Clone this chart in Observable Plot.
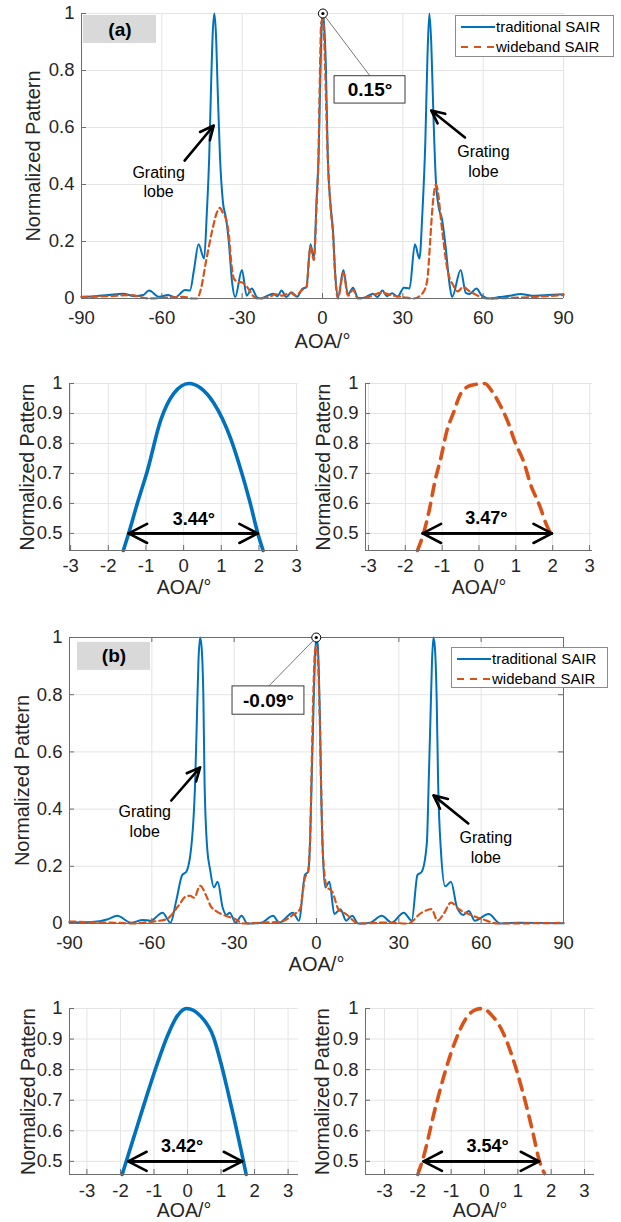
<!DOCTYPE html>
<html><head><meta charset="utf-8">
<script src="https://cdn.jsdelivr.net/npm/d3@7"></script>
<script src="https://cdn.jsdelivr.net/npm/@observablehq/plot@0.6"></script>
<style>
body{margin:0;background:#fff;font-family:"Liberation Sans",Arial,sans-serif;}
#root{position:relative;width:621px;height:1222px;overflow:hidden;background:#fff;}
.panel{position:absolute;}
.legend{position:absolute;background:#fff;border:1px solid #8c8c8c;font-size:15px;color:#000;box-sizing:border-box;}
.legend span{position:absolute;left:40px;white-space:nowrap;line-height:18px;}
</style></head><body><div id="root"></div>
<script>
// ---------- data ----------
const seriesNames = ["traditional SAIR", "wideband SAIR"];
const xTicksMain = [-90, -60, -30, 0, 30, 60, 90];
const yTicksMain = [0, 0.2, 0.4, 0.6, 0.8, 1];
const xTicksZoom = [-3, -2, -1, 0, 1, 2, 3];
const yTicksZoom = [0.5, 0.6, 0.7, 0.8, 0.9, 1];
const xLabel = "AOA/°";
const yLabel = "Normalized Pattern";

// (a) full pattern
const tradA = [[-90,0.006],[-85,0.008],[-80,0.012],[-74.5,0.017],[-70,0.008],[-67,0.012],[-64.8,0.028],[-61,0.006],[-57.8,0.012],[-55,0.004],[-51.3,0.03],[-49.5,0.028],[-48,0.1],[-46.3,0.19],[-44.2,0.14],[-43.2,0.3],[-42.3,0.5],[-41.6,0.75],[-41,0.93],[-40.4,1.0],[-39.8,0.93],[-39.1,0.72],[-38.3,0.5],[-37.2,0.34],[-36,0.28],[-35,0.2],[-33.8,0.06],[-32.6,0.005],[-30.1,0.1],[-28.3,0.01],[-26.4,0.035],[-24.5,0.004],[-23,0.0],[-20.5,0.01],[-18.3,0.017],[-16.8,0.008],[-15.3,0.028],[-13.5,0.005],[-11.6,0.022],[-9.5,0.006],[-7.6,0.033],[-6,0.04],[-4.5,0.19],[-3.2,0.14],[-2.2,0.35],[-1.46,0.5],[-0.96,0.71],[-0.26,0.967],[0.15,1.0],[0.8,0.93],[1.25,0.82],[1.97,0.5],[3.0,0.33],[3.9,0.24],[4.8,0.08],[5.8,0.005],[7.8,0.1],[9.5,0.015],[11.4,0.038],[13.2,0.003],[15,0.002],[17.5,0.012],[18.8,0.017],[20.5,0.005],[22.4,0.028],[24,0.008],[26,0.018],[28,0.006],[30.4,0.038],[32.5,0.035],[34.5,0.19],[36.2,0.14],[37.3,0.3],[38.4,0.55],[39.2,0.85],[39.9,1.0],[40.6,0.9],[41.4,0.65],[42.3,0.42],[43.4,0.32],[44.6,0.28],[46,0.18],[47.3,0.06],[48.4,0.005],[51.6,0.1],[53.5,0.02],[55,0.016],[57.5,0.035],[59.5,0.01],[62.5,0.0],[66,0.005],[70,0.01],[74,0.016],[78,0.01],[84,0.012],[90,0.015]];
const wideA = [[-90,0.005],[-80,0.008],[-71.5,0.012],[-65,0.0],[-58,0.003],[-52,0.006],[-48.5,0.0],[-46.8,0.0],[-45.5,0.03],[-43.5,0.13],[-41.2,0.238],[-39.5,0.3],[-38.3,0.318],[-37.2,0.3],[-36.2,0.283],[-35,0.225],[-34,0.12],[-33.1,0.07],[-31.5,0.058],[-30.2,0.057],[-28.1,0.04],[-26,0.01],[-24.4,0.0],[-20,0.005],[-17.5,0.015],[-15,0.01],[-12,0.02],[-10,0.01],[-7.6,0.03],[-6,0.04],[-4.5,0.18],[-3.2,0.135],[-2.2,0.33],[-1.53,0.49],[-1.03,0.754],[-0.49,0.967],[0.15,0.98],[0.8,0.867],[1.39,0.667],[2.02,0.485],[3,0.32],[3.9,0.23],[4.8,0.07],[5.8,0.0],[7.8,0.09],[9.5,0.01],[11.4,0.03],[13.2,0.0],[17,0.005],[22,0.02],[26.5,0.01],[30,0.005],[34.1,0.0],[37.5,0.02],[39.1,0.063],[40.2,0.2],[40.9,0.3],[41.8,0.38],[42.4,0.4],[43.3,0.36],[44.3,0.27],[45.2,0.2],[46.1,0.133],[47.5,0.07],[48.6,0.05],[50.5,0.025],[52.5,0.04],[55,0.025],[58,0.01],[61.5,0.0],[70,0.002],[80,0.006],[90,0.012]];

// (b) full pattern
const tradB = [[-90,0.003],[-82,0.005],[-76,0.015],[-72.6,0.027],[-67.6,0.003],[-63.3,0.012],[-60.4,0.01],[-56.1,0.038],[-53.2,0.003],[-51.1,0.08],[-48.9,0.17],[-47.5,0.18],[-45.5,0.28],[-44.2,0.5],[-43.6,0.71],[-43,0.92],[-42.4,1.0],[-41.9,0.97],[-41.2,0.78],[-40.8,0.5],[-39.8,0.26],[-38.8,0.19],[-37.4,0.126],[-36,0.146],[-34.2,0.056],[-32.8,0.03],[-31.6,0.038],[-29.5,0.003],[-27.3,0.027],[-25.2,0.0],[-20.1,0.003],[-15.8,0.027],[-13.6,0.003],[-8.6,0.038],[-6.4,0.01],[-4.2,0.17],[-3.1,0.18],[-2.3,0.3],[-1.77,0.5],[-1.2,0.71],[-0.6,0.92],[-0.09,1.0],[0.39,0.98],[0.78,0.905],[1.3,0.7],[1.63,0.5],[2.3,0.25],[3.2,0.126],[4.7,0.146],[6.5,0.033],[8.7,0.05],[10.8,0.01],[13,0.027],[15.2,0.0],[19.5,0.003],[23.8,0.027],[27.4,0.003],[31.8,0.038],[34.7,0.01],[36.8,0.17],[38.3,0.18],[40.2,0.28],[40.9,0.5],[41.5,0.71],[42.1,0.92],[42.6,1.0],[43.1,0.97],[43.8,0.78],[44.3,0.5],[45.3,0.26],[46.9,0.13],[49,0.146],[51.2,0.056],[53.5,0.03],[55.5,0.044],[57.7,0.01],[62.7,0.033],[67,0.0],[73.5,0.003],[90,0.001]];
const wideB = [[-90,0.007],[-80,0.004],[-72,0.002],[-67,0.0],[-60.5,0.006],[-54.7,0.015],[-50.3,0.062],[-47.5,0.095],[-46,0.097],[-44.6,0.09],[-42.4,0.132],[-40.3,0.1],[-38.5,0.06],[-36.7,0.044],[-33.1,0.027],[-29.5,0.015],[-26.6,0.0],[-20,0.003],[-13,0.006],[-8.6,0.03],[-6,0.05],[-4.2,0.16],[-3.1,0.18],[-2.3,0.3],[-1.86,0.5],[-1.17,0.797],[-0.57,0.95],[-0.09,0.97],[0.54,0.92],[1.14,0.73],[1.65,0.5],[2.3,0.25],[3.7,0.13],[5.8,0.11],[8,0.05],[10.8,0.033],[15.2,0.0],[25,0.003],[33.3,0.0],[38.3,0.038],[41.9,0.05],[44.1,0.01],[46.3,0.033],[49,0.073],[51.9,0.05],[55.5,0.033],[60.5,0.015],[66.2,0.0],[80,0.001],[90,0.002]];

// zoomed main lobes
const zoomTradA = [[-1.6,0.443],[-1.46,0.5],[-1.23,0.6],[-0.96,0.71],[-0.61,0.877],[-0.26,0.967],[0.14,1.0],[0.45,0.985],[0.8,0.935],[1.25,0.816],[1.5,0.72],[1.75,0.61],[1.97,0.5],[2.11,0.443]];
const zoomWideA = [[-1.67,0.443],[-1.53,0.49],[-1.35,0.577],[-1.19,0.677],[-1.03,0.754],[-0.87,0.843],[-0.7,0.9],[-0.49,0.967],[-0.23,0.993],[0.15,1.0],[0.37,0.971],[0.53,0.938],[0.8,0.867],[0.96,0.81],[1.23,0.733],[1.39,0.667],[1.66,0.588],[1.82,0.532],[2.02,0.485]];
const zoomTradB = [[-1.95,0.457],[-1.77,0.52],[-1.5,0.615],[-1.2,0.72],[-0.9,0.82],[-0.6,0.91],[-0.31,0.975],[-0.03,1.0],[0.39,0.975],[0.78,0.905],[1.0,0.82],[1.2,0.73],[1.4,0.635],[1.6,0.535],[1.75,0.457]];
const zoomWideB = [[-2.0,0.457],[-1.86,0.503],[-1.47,0.677],[-1.17,0.797],[-0.87,0.895],[-0.57,0.965],[-0.25,0.997],[-0.06,1.0],[0.24,0.975],[0.54,0.925],[0.84,0.84],[1.14,0.73],[1.44,0.6],[1.65,0.5],[1.8,0.46]];

// annotations
const tagA = [{x1:-89.3, x2:-62, y1:0.895, y2:0.993, label:"(a)"}];
const tagB = [{x1:-87.1, x2:-60.5, y1:0.885, y2:0.983, label:"(b)"}];
const tipA = [{x:0.15, y:1, bx:17.8, by:0.78, x1:4.5, x2:31, y1:0.684, y2:0.78, label:"0.15°"}];
const tipB = [{x:-0.09, y:1, bx:-17.5, by:0.829, x1:-30.6, x2:-4.4, y1:0.73, y2:0.829, label:"-0.09°"}];
const grateA = [{x1:-51.5,y1:0.484,x2:-40.6,y2:0.607,tx:-61.2,ty:0.412},{x1:53.2,y1:0.565,x2:40.6,y2:0.66,tx:60.1,ty:0.483}];
const grateB = [{x1:-52.9,y1:0.43,x2:-42.4,y2:0.546,tx:-62.6,ty:0.359},{x1:55.3,y1:0.35,x2:42.6,y2:0.448,tx:61.7,ty:0.268}];
const grateText = "Grating\nlobe";
const bwA1 = [{x1:-1.46, x2:1.97, y:0.5, lx:0.27, ly:0.548, label:"3.44°"}];
const bwA2 = [{x1:-1.53, x2:1.98, y:0.5, lx:0.2, ly:0.552, label:"3.47°"}];
const bwB1 = [{x1:-1.77, x2:1.63, y:0.5, lx:-0.16, ly:0.55, label:"3.42°"}];
const bwB2 = [{x1:-1.83, x2:1.64, y:0.5, lx:0.09, ly:0.55, label:"3.54°"}];

// ---------- style ----------
const BLUE = "#0072BD", ORANGE = "#D95319";
const GRID = "#e4e4e4", AXIS = "#6e6e6e", TXT = "#262626";
const FONT = "'Liberation Sans', Arial, sans-serif";
const root = document.getElementById("root");

function makePanel(c) {
  const fw = c.width - c.ml - c.mr, fh = c.height - c.mt - c.mb;
  const marks = [
    Plot.gridX(c.xTicks, {stroke: GRID, strokeOpacity: 1}),
    Plot.gridY(c.yTicks, {stroke: GRID, strokeOpacity: 1}),
    ...c.marks
  ];
  if (c.box) marks.push(Plot.frame({stroke: AXIS, strokeWidth: 1}));
  else marks.push(Plot.ruleX([c.xDomain[0]], {stroke: AXIS}), Plot.ruleY([c.yDomain[0]], {stroke: AXIS}));
  marks.push(
    Plot.tickX(c.xTicks, {x: d => d, stroke: AXIS, insetTop: fh - 5}),
    Plot.tickY(c.yTicks, {y: d => d, stroke: AXIS, insetRight: fw - 5})
  );
  if (c.box) marks.push(
    Plot.tickX(c.xTicks, {x: d => d, stroke: AXIS, insetBottom: fh - 5}),
    Plot.tickY(c.yTicks, {y: d => d, stroke: AXIS, insetLeft: fw - 5})
  );
  marks.push(
    Plot.axisX(c.xTicks, {tickSize: 0, tickPadding: c.xPad, fontSize: c.tickFs, tickFormat: d => String(d), color: TXT, label: null}),
    Plot.axisY(c.yTicks, {tickSize: 0, tickPadding: 7, fontSize: c.tickFs, tickFormat: d => String(d), color: TXT, label: null}),
    Plot.text([xLabel], {text: d => d, frameAnchor: "bottom", textAnchor: "middle", lineAnchor: "middle", dy: c.xLabelDy, fontSize: c.labelFs, fill: TXT}),
    Plot.text([yLabel], {text: d => d, frameAnchor: "left", textAnchor: "middle", lineAnchor: "middle", rotate: -90, dx: c.yLabelDx, fontSize: c.labelFs, fill: TXT}),
    ...(c.top || [])
  );
  const svg = Plot.plot({
    width: c.width, height: c.height,
    marginLeft: c.ml, marginRight: c.mr, marginTop: c.mt, marginBottom: c.mb,
    x: {domain: c.xDomain, axis: null}, y: {domain: c.yDomain, axis: null},
    style: {fontFamily: FONT, overflow: "visible", background: "none"},
    marks
  });
  const div = document.createElement("div");
  div.className = "panel";
  div.style.left = c.left + "px"; div.style.top = c.top0 + "px";
  div.appendChild(svg);
  root.appendChild(div);
}

function lineMark(data, color, width, dash) {
  return Plot.line(data, {x: d => d[0], y: d => d[1], stroke: color, strokeWidth: width, strokeDasharray: dash, curve: "monotone-x"});
}

function mainMarks(trad, wide) {
  return [
    lineMark(trad, BLUE, 2, null),
    lineMark(wide, ORANGE, 2.2, "6,4"),
  ];
}
function mainTop(tag, tip, grate) {
  return [
    Plot.rect(tag, {x1: "x1", x2: "x2", y1: "y1", y2: "y2", fill: "#d9d9d9"}),
    Plot.text(tag, {x: d => (d.x1 + d.x2) / 2, y: d => (d.y1 + d.y2) / 2, text: "label", fontWeight: "bold", fontSize: 19, fill: "#000"}),
    Plot.link(tip, {x1: "x", y1: "y", x2: "bx", y2: "by", stroke: "#555", strokeWidth: 0.8}),
    Plot.rect(tip, {x1: "x1", x2: "x2", y1: "y1", y2: "y2", fill: "white", stroke: "#3a3a3a", strokeWidth: 1}),
    Plot.text(tip, {x: d => (d.x1 + d.x2) / 2, y: d => (d.y1 + d.y2) / 2, text: "label", fontWeight: "bold", fontSize: 19, fill: "#000"}),
    Plot.dot(tip, {x: "x", y: "y", r: 4.5, stroke: "#000", fill: "white", strokeWidth: 1}),
    Plot.dot(tip, {x: "x", y: "y", r: 1.6, fill: "#000"}),
    Plot.arrow(grate, {x1: "x1", y1: "y1", x2: "x2", y2: "y2", stroke: "#000", strokeWidth: 2.6, headLength: 11, headAngle: 50}),
    Plot.text(grate, {x: "tx", y: "ty", text: () => grateText, fontSize: 16, lineHeight: 1.2, fill: "#000"})
  ];
}
function zoomMarks(data, color, dash) {
  return [lineMark(data, color, 3.6, dash)];
}
function zoomTop(bw) {
  return [
    Plot.arrow(bw, {x1: "x1", y1: "y", x2: "x2", y2: "y", stroke: "#000", strokeWidth: 2.6, headLength: 12, headAngle: 55}),
    Plot.arrow(bw, {x1: "x2", y1: "y", x2: "x1", y2: "y", stroke: "#000", strokeWidth: 2.6, headLength: 12, headAngle: 55}),
    Plot.text(bw, {x: "lx", y: "ly", text: "label", fontWeight: "bold", fontSize: 18, fill: "#000"})
  ];
}

// (a) main
makePanel({left: 0, top0: 0, width: 621, height: 355, ml: 81, mr: 58, mt: 13, mb: 57,
  xDomain: [-90, 90], yDomain: [0, 1], xTicks: xTicksMain, yTicks: yTicksMain, box: false,
  xPad: 12, tickFs: 18.5, labelFs: 20, xLabelDy: 43, yLabelDx: -48,
  marks: mainMarks(tradA, wideA), top: mainTop(tagA, tipA, grateA)});
// (a) zoom left
makePanel({left: 0, top0: 360, width: 310, height: 240, ml: 69, mr: 12, mt: 23, mb: 50,
  xDomain: [-3.03, 3.05], yDomain: [0.443, 1], xTicks: xTicksZoom, yTicks: yTicksZoom, box: false,
  xPad: 8, tickFs: 18.5, labelFs: 19.5, xLabelDy: 37, yLabelDx: -42,
  marks: zoomMarks(zoomTradA, BLUE, null), top: zoomTop(bwA1)});
// (a) zoom right
makePanel({left: 310, top0: 360, width: 311, height: 240, ml: 55, mr: 29, mt: 23, mb: 50,
  xDomain: [-3.08, 3.08], yDomain: [0.443, 1], xTicks: xTicksZoom, yTicks: yTicksZoom, box: false,
  xPad: 8, tickFs: 18.5, labelFs: 19.5, xLabelDy: 37, yLabelDx: -42,
  marks: zoomMarks(zoomWideA, ORANGE, "11,8"), top: zoomTop(bwA2)});
// (b) main
makePanel({left: 0, top0: 600, width: 621, height: 355, ml: 69, mr: 58, mt: 37, mb: 32,
  xDomain: [-90, 90], yDomain: [0, 1], xTicks: xTicksMain, yTicks: yTicksMain, box: true,
  xPad: 12, tickFs: 18.5, labelFs: 20, xLabelDy: 41, yLabelDx: -47,
  marks: mainMarks(tradB, wideB), top: mainTop(tagB, tipB, grateB)});
// (b) zoom left
makePanel({left: 0, top0: 990, width: 310, height: 232, ml: 69, mr: 12, mt: 18, mb: 48,
  xDomain: [-3.52, 3.31], yDomain: [0.457, 1], xTicks: xTicksZoom, yTicks: yTicksZoom, box: false,
  xPad: 9, tickFs: 18.5, labelFs: 19.5, xLabelDy: 36, yLabelDx: -41,
  marks: zoomMarks(zoomTradB, BLUE, null), top: zoomTop(bwB1)});
// (b) zoom right
makePanel({left: 310, top0: 990, width: 311, height: 232, ml: 55, mr: 27, mt: 18, mb: 48,
  xDomain: [-3.57, 3.3], yDomain: [0.457, 1], xTicks: xTicksZoom, yTicks: yTicksZoom, box: false,
  xPad: 9, tickFs: 18.5, labelFs: 19.5, xLabelDy: 36, yLabelDx: -43,
  marks: zoomMarks(zoomWideB, ORANGE, "11,8"), top: zoomTop(bwB2)});

// legends
function legend(left, top, w, h) {
  const div = document.createElement("div");
  div.className = "legend";
  Object.assign(div.style, {left: left + "px", top: top + "px", width: w + "px", height: h + "px"});
  div.innerHTML = `<svg width="${w}" height="${h}" style="position:absolute;left:0;top:0">
    <line x1="5" x2="39" y1="11" y2="11" stroke="${BLUE}" stroke-width="2"/>
    <line x1="5" x2="39" y1="31" y2="31" stroke="${ORANGE}" stroke-width="2.2" stroke-dasharray="7,6"/>
  </svg><span style="top:2px">${seriesNames[0]}</span><span style="top:22px">${seriesNames[1]}</span>`;
  root.appendChild(div);
}
legend(455, 15, 159, 42);
legend(451, 647, 157, 41);
</script></body></html>
